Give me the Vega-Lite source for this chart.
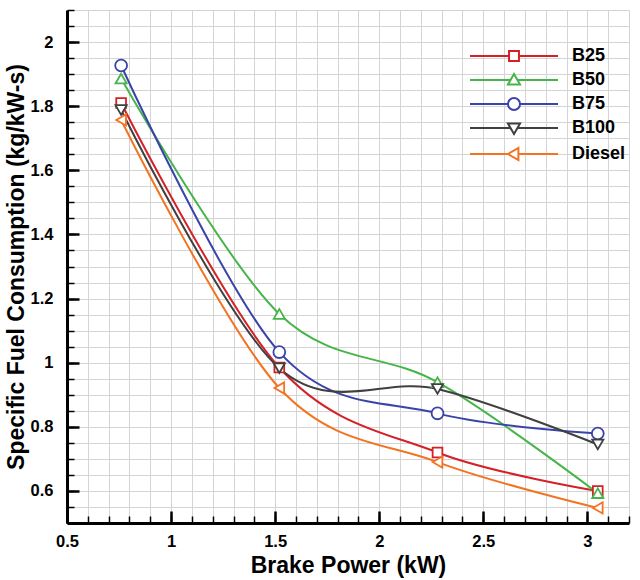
{
  "$schema": "https://vega.github.io/schema/vega-lite/v6.json",
  "width": 562,
  "height": 513,
  "autosize": {"type": "none"},
  "padding": {"left": 67, "top": 10, "right": 11, "bottom": 57},
  "background": "white",
  "data": {
    "values": [
      {"power": 0.76, "sfc": 1.81, "fuel": "B25"},
      {"power": 1.52, "sfc": 0.985, "fuel": "B25"},
      {"power": 2.28, "sfc": 0.72, "fuel": "B25"},
      {"power": 3.05, "sfc": 0.6, "fuel": "B25"},
      {"power": 0.76, "sfc": 1.886, "fuel": "B50"},
      {"power": 1.52, "sfc": 1.152, "fuel": "B50"},
      {"power": 2.28, "sfc": 0.939, "fuel": "B50"},
      {"power": 3.05, "sfc": 0.593, "fuel": "B50"},
      {"power": 0.76, "sfc": 1.927, "fuel": "B75"},
      {"power": 1.52, "sfc": 1.033, "fuel": "B75"},
      {"power": 2.28, "sfc": 0.842, "fuel": "B75"},
      {"power": 3.05, "sfc": 0.779, "fuel": "B75"},
      {"power": 0.76, "sfc": 1.788, "fuel": "B100"},
      {"power": 1.52, "sfc": 0.983, "fuel": "B100"},
      {"power": 2.28, "sfc": 0.918, "fuel": "B100"},
      {"power": 3.05, "sfc": 0.745, "fuel": "B100"},
      {"power": 0.76, "sfc": 1.757, "fuel": "Diesel"},
      {"power": 1.52, "sfc": 0.921, "fuel": "Diesel"},
      {"power": 2.28, "sfc": 0.69, "fuel": "Diesel"},
      {"power": 3.05, "sfc": 0.547, "fuel": "Diesel"}
    ]
  },
  "layer": [
    {
      "mark": {"type": "line", "interpolate": "cardinal", "tension": 0, "strokeWidth": 2},
      "encoding": {
        "x": {
          "field": "power",
          "type": "quantitative",
          "scale": {"domain": [0.5, 3.2], "nice": false, "zero": false},
          "title": "Brake Power (kW)",
          "axis": {
            "orient": "bottom",
            "values": [0.5, 1, 1.5, 2, 2.5, 3],
            "format": "~g",
            "grid": false,
            "tickSize": -12,
            "tickWidth": 2.5,
            "labelPadding": 22,
            "labelFlush": false,
            "titlePadding": 5
          }
        },
        "y": {
          "field": "sfc",
          "type": "quantitative",
          "scale": {"domain": [0.5, 2.1], "nice": false, "zero": false},
          "title": "Specific Fuel Consumption (kg/kW-s)",
          "axis": {
            "orient": "left",
            "values": [0.6, 0.8, 1, 1.2, 1.4, 1.6, 1.8, 2],
            "format": "~g",
            "grid": false,
            "tickSize": -12,
            "tickWidth": 2.5,
            "labelPadding": 26,
            "labelFlush": false,
            "titlePadding": 2
          }
        },
        "color": {
          "field": "fuel",
          "type": "nominal",
          "sort": ["B25", "B50", "B75", "B100", "Diesel"],
          "scale": {
            "domain": ["B25", "B50", "B75", "B100", "Diesel"],
            "range": ["#d42128", "#46b549", "#3a44a8", "#404040", "#f27422"]
          },
          "legend": {
            "title": null,
            "orient": "none",
            "legendX": 438,
            "legendY": 37,
            "padding": 0,
            "symbolSize": 121,
            "symbolStrokeWidth": 2,
            "labelOffset": 49,
            "labelFontSize": 18,
            "labelFontWeight": "bold",
            "labelFont": "Liberation Sans",
            "labelColor": "black",
            "rowPadding": 4,
            "encode": {
              "symbols": {
                "update": {
                  "shape": {"signal": "datum.value === 'B25' ? 'M-8,0H-0.9M0.9,0H8M-0.9,-0.9H0.9V0.9H-0.9Z' : datum.value === 'B50' ? 'M-8,0H-0.64M0.64,0H8M0,-1.1L1.1,0.8H-1.1Z' : datum.value === 'B75' ? 'M-8,0H-1.1M1.1,0H8M1.1,0A1.1,1.1,0,1,1,-1.1,0A1.1,1.1,0,1,1,1.1,0Z' : datum.value === 'B100' ? 'M-8,0H-0.64M0.64,0H8M0,1.1L1.1,-0.8H-1.1Z' : 'M-8,0H-1.1M0.8,0H8M-1.1,0L0.8,-1.1V1.1Z'"},
                  "fill": {"value": "white"},
                  "fillOpacity": {"value": 1},
                  "strokeWidth": {"value": 2}
                }
              }
            }
          }
        }
      }
    },
    {
      "transform": [{"filter": {"field": "fuel", "equal": "B25"}}],
      "mark": {"type": "point", "shape": "square", "size": 95, "filled": true, "fill": "white", "stroke": "#d42128", "strokeWidth": 1.8, "opacity": 1},
      "encoding": {
        "x": {
          "field": "power",
          "type": "quantitative",
          "axis": {
            "orient": "bottom",
            "values": [0.5, 0.6, 0.7, 0.8, 0.9, 1, 1.1, 1.2, 1.3, 1.4, 1.5, 1.6, 1.7, 1.8, 1.9, 2, 2.1, 2.2, 2.3, 2.4, 2.5, 2.6, 2.7, 2.8, 2.9, 3, 3.1, 3.2],
            "labels": false,
            "domain": false,
            "title": null,
            "grid": true,
            "tickSize": -7,
            "tickWidth": 1.5
          }
        },
        "y": {
          "field": "sfc",
          "type": "quantitative",
          "axis": {
            "orient": "left",
            "values": [0.5, 0.55, 0.6, 0.65, 0.7, 0.75, 0.8, 0.85, 0.9, 0.95, 1, 1.05, 1.1, 1.15, 1.2, 1.25, 1.3, 1.35, 1.4, 1.45, 1.5, 1.55, 1.6, 1.65, 1.7, 1.75, 1.8, 1.85, 1.9, 1.95, 2, 2.05, 2.1],
            "labels": false,
            "domain": false,
            "title": null,
            "grid": true,
            "tickSize": -7,
            "tickWidth": 1.5
          }
        }
      }
    },
    {
      "transform": [{"filter": {"field": "fuel", "equal": "B50"}}],
      "mark": {"type": "point", "shape": "triangle-up", "size": 125, "filled": true, "fill": "white", "stroke": "#46b549", "strokeWidth": 1.8, "opacity": 1},
      "encoding": {
        "x": {"field": "power", "type": "quantitative", "axis": null},
        "y": {"field": "sfc", "type": "quantitative", "axis": null}
      }
    },
    {
      "transform": [{"filter": {"field": "fuel", "equal": "B75"}}],
      "mark": {"type": "point", "shape": "circle", "size": 140, "filled": true, "fill": "white", "stroke": "#3a44a8", "strokeWidth": 1.8, "opacity": 1},
      "encoding": {
        "x": {"field": "power", "type": "quantitative", "axis": null},
        "y": {"field": "sfc", "type": "quantitative", "axis": null}
      }
    },
    {
      "transform": [{"filter": {"field": "fuel", "equal": "B100"}}],
      "mark": {"type": "point", "shape": "triangle-down", "size": 125, "filled": true, "fill": "white", "stroke": "#404040", "strokeWidth": 1.8, "opacity": 1},
      "encoding": {
        "x": {"field": "power", "type": "quantitative", "axis": null},
        "y": {"field": "sfc", "type": "quantitative", "axis": null}
      }
    },
    {
      "transform": [{"filter": {"field": "fuel", "equal": "Diesel"}}],
      "mark": {"type": "point", "shape": "triangle-left", "size": 125, "filled": true, "fill": "white", "stroke": "#f27422", "strokeWidth": 1.8, "opacity": 1},
      "encoding": {
        "x": {"field": "power", "type": "quantitative", "axis": null},
        "y": {"field": "sfc", "type": "quantitative", "axis": null}
      }
    }
  ],
  "resolve": {"axis": {"x": "independent", "y": "independent"}},
  "config": {
    "view": {"stroke": null},
    "axis": {
      "domainColor": "black",
      "domainWidth": 3,
      "tickColor": "black",
      "gridColor": "#d4d4d4",
      "gridWidth": 1,
      "labelFont": "Liberation Sans",
      "labelFontSize": 16.5,
      "labelFontWeight": "bold",
      "labelColor": "black",
      "titleFont": "Liberation Sans",
      "titleFontSize": 23,
      "titleFontWeight": "bold",
      "titleColor": "black"
    }
  }
}
